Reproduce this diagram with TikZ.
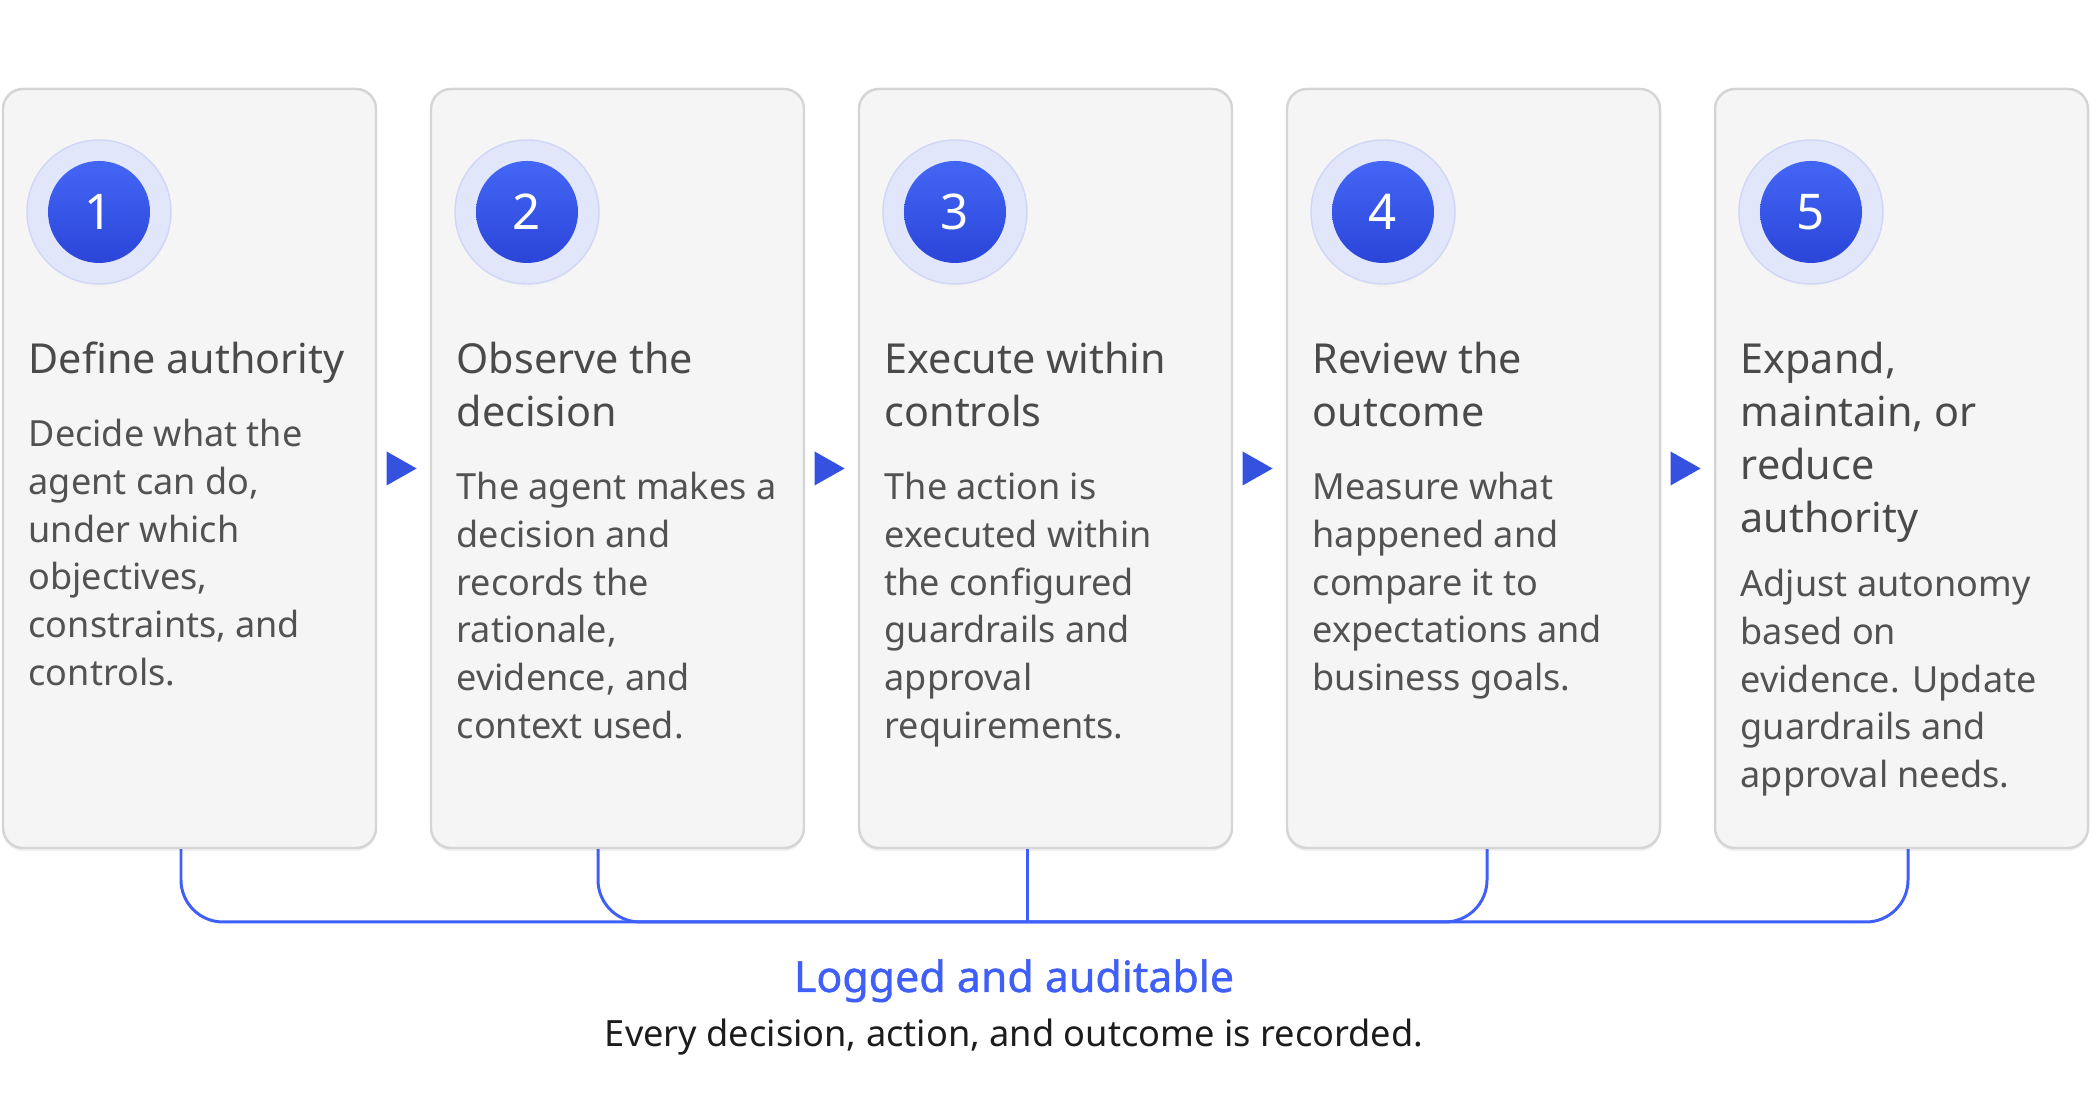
\documentclass[tikz,border=0pt]{standalone}
\usepackage{fontspec}
\setmainfont{Noto Sans}
\newfontfamily\medfont{Noto Sans}[FakeBold=1]
\usetikzlibrary{positioning,calc,shapes.geometric,shadows}
\begin{document}
\begin{tikzpicture}[
  card/.style={draw=cardline, fill=cardfill, line width=0.7pt, rounded corners=0.2cm,
    minimum width=3.73cm, minimum height=7.59cm,
    drop shadow={opacity=0.12, shadow xshift=0cm, shadow yshift=-0.03cm}},
  halo/.style={circle, fill=halofill, draw=haloline, line width=0.4pt, minimum size=1.44cm, inner sep=0pt,
    circular drop shadow={opacity=0.10, shadow xshift=0cm, shadow yshift=-0.07cm, shadow scale=0.95}},
  badge/.style={circle, top color=badgetop, bottom color=badgebot, minimum size=1.02cm, inner sep=0pt,
    text=white, font=\fontsize{14}{14}\selectfont},
  title/.style={anchor=north west, inner sep=0pt, align=left, text=titletext, font=\fontsize{11.75}{15.1}\selectfont},
  body/.style={anchor=north west, inner sep=0pt, align=left, text=bodytext, font=\fontsize{10.25}{13.65}\selectfont},
  pointer/.style={isosceles triangle, isosceles triangle stretches, fill=pointblue, inner sep=0pt,
    minimum width=0.34cm, minimum height=0.30cm, xshift=-0.07cm},
  logline/.style={draw=logblue, line width=0.85pt, rounded corners=0.42cm}
]
\definecolor{cardfill}{HTML}{F5F5F5}
\definecolor{cardline}{HTML}{D5D5D5}
\definecolor{halofill}{HTML}{E2E6FA}
\definecolor{haloline}{HTML}{CFD6F6}
\definecolor{badgetop}{HTML}{4466F5}
\definecolor{badgebot}{HTML}{2A45D8}
\definecolor{titletext}{HTML}{4A4A4A}
\definecolor{bodytext}{HTML}{525252}
\definecolor{pointblue}{HTML}{3451E0}
\definecolor{logblue}{HTML}{3F5FF8}
\definecolor{captext}{HTML}{1C1C1C}
\useasboundingbox (0,0) rectangle (20.93,11.04);

% step 1
\node[card] (c1) at (1.895, 6.355) {};
\node[halo] (h1) at (0.99, 8.92) {};
\node[badge] (b1) at (h1) {1};
\node[title] (t1) at (0.28, 7.63) {Define authority};
\node[body] (d1) at (0.28, 6.86) {Decide what the\\agent can do,\\under which\\objectives,\\constraints, and\\controls.};

% step 2
\node[card] (c2) at (6.175, 6.355) {};
\node[halo] (h2) at (5.27, 8.92) {};
\node[badge] (b2) at (h2) {2};
\node[title] (t2) at (4.56, 7.63) {Observe the\\decision};
\node[body] (d2) at (4.56, 6.33) {The agent makes a\\decision and\\records the\\rationale,\\evidence, and\\context used.};

% step 3
\node[card] (c3) at (10.455, 6.355) {};
\node[halo] (h3) at (9.55, 8.92) {};
\node[badge] (b3) at (h3) {3};
\node[title] (t3) at (8.84, 7.63) {Execute within\\controls};
\node[body] (d3) at (8.84, 6.33) {The action is\\executed within\\the configured\\guardrails and\\approval\\requirements.};

% step 4
\node[card] (c4) at (14.735, 6.355) {};
\node[halo] (h4) at (13.83, 8.92) {};
\node[badge] (b4) at (h4) {4};
\node[title] (t4) at (13.12, 7.63) {Review the\\outcome};
\node[body] (d4) at (13.12, 6.33) {Measure what\\happened and\\compare it to\\expectations and\\business goals.};

% step 5
\node[card] (c5) at (19.015, 6.355) {};
\node[halo] (h5) at (18.11, 8.92) {};
\node[badge] (b5) at (h5) {5};
\node[title] (t5) at (17.40, 7.63) {Expand,\\maintain, or\\reduce\\authority};
\node[body] (d5) at (17.40, 5.36) {Adjust autonomy\\based on\\evidence. Update\\guardrails and\\approval needs.};

% pointers between steps
\node[pointer] (p1) at ($(c1.east)!0.5!(c2.west)$) {};
\node[pointer] (p2) at ($(c2.east)!0.5!(c3.west)$) {};
\node[pointer] (p3) at ($(c3.east)!0.5!(c4.west)$) {};
\node[pointer] (p4) at ($(c4.east)!0.5!(c5.west)$) {};

% log bracket
\coordinate (hub) at (10.27, 1.82);
\draw[logline] ($(c1.south)+(-0.085,0)$) |- (hub);
\draw[logline] ($(c2.south)+(-0.195,0)$) |- (hub);
\draw[logline] ($(c3.south)+(-0.185,0)$) -- (hub);
\draw[logline] ($(c4.south)+(0.135,0)$) |- (hub);
\draw[logline] ($(c5.south)+(0.065,0)$) |- (hub);

\node[anchor=base, font={\medfont\fontsize{12.2}{14}\selectfont}, text=logblue] (logt) at (10.14, 1.12) {Logged and auditable};
\node[anchor=base, font=\fontsize{10.3}{12}\selectfont, text=captext] (logs) at (10.14, 0.57) {Every decision, action, and outcome is recorded.};
\end{tikzpicture}
\end{document}
